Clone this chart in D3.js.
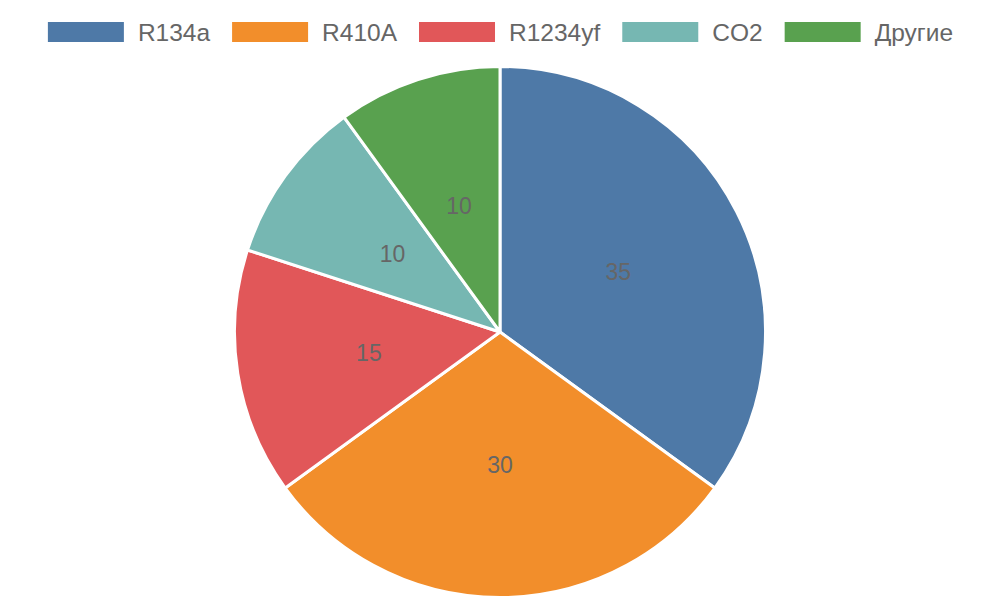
<!DOCTYPE html>
<html><head><meta charset="utf-8">
<script src="https://cdn.jsdelivr.net/npm/d3@7"></script>
<style>body{margin:0;background:#fff}</style>
</head><body>
<svg id="c" width="1000" height="600"></svg>
<script>
const categories = ["R134a","R410A","R1234yf","CO2","Другие"];
const values = [35,30,15,10,10];
const colors = ["#4e79a7","#f28e2b","#e15759","#76b7b2","#59a14f"];

const svg = d3.select("#c");
const font = "'Liberation Sans', Arial, sans-serif";
const cx = 500, cy = 332, R = 265.5;

const pie = d3.pie().sort(null).value(d => d)(values);
const arc = d3.arc().innerRadius(0).outerRadius(R);
const g = svg.append("g").attr("transform", `translate(${cx},${cy})`);
g.selectAll("path").data(pie).join("path")
  .attr("d", arc).attr("fill", (d,i) => colors[i])
  .attr("stroke", "#fff").attr("stroke-width", 3).attr("stroke-linejoin","round");
g.selectAll("text").data(pie).join("text")
  .attr("transform", d => `translate(${arc.centroid(d)})`)
  .attr("text-anchor","middle").attr("dy","0.35em")
  .attr("font-family", font).attr("font-size", 23).attr("fill","#666")
  .text(d => d.data);

// legend
const lg = svg.append("g");
const boxW = 76, boxH = 20, gapBT = 14, gapItem = 22;
const items = categories.map((c,i) => {
  const it = lg.append("g");
  it.append("rect").attr("width", boxW).attr("height", boxH).attr("y", 22).attr("fill", colors[i]);
  const t = it.append("text").attr("x", boxW + gapBT).attr("y", 32).attr("dy","0.35em")
    .attr("font-family", font).attr("font-size", 24.5).attr("fill","#666").text(c);
  return {it, w: boxW + gapBT + t.node().getComputedTextLength()};
});
const total = d3.sum(items, d => d.w) + gapItem * (items.length - 1);
let x = 500.5 - total / 2;
items.forEach(d => { d.it.attr("transform", `translate(${x},0)`); x += d.w + gapItem; });
</script>
</body></html>
